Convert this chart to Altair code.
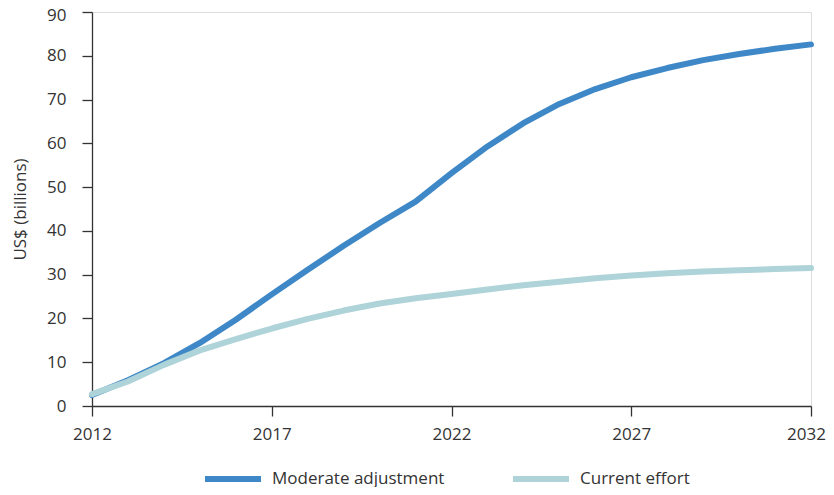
import altair as alt
import pandas as pd

years = list(range(2012, 2033))
moderate = [2.5, 5.9, 9.8, 14.4, 19.7, 25.5, 31.1, 36.6, 41.8, 46.7, 53.2,
            59.3, 64.6, 69.0, 72.4, 75.1, 77.2, 79.0, 80.4, 81.6, 82.6]
current = [2.7, 5.6, 9.4, 12.7, 15.3, 17.7, 19.9, 21.8, 23.4, 24.6, 25.6,
           26.6, 27.6, 28.4, 29.2, 29.8, 30.3, 30.7, 31.0, 31.3, 31.5]
series_names = ["Moderate adjustment", "Current effort"]
series_colors = ["#3F88C8", "#AED3D8"]
x_ticks = [2012, 2017, 2022, 2027, 2032]
y_ticks = list(range(0, 91, 10))

rows = []
for y, m, c in zip(years, moderate, current):
    rows.append({"year": y, "value": m, "series": series_names[0]})
    rows.append({"year": y, "value": c, "series": series_names[1]})
df = pd.DataFrame(rows)

FONT = "Open Sans"
TXT = "#333333"

color = alt.Color(
    "series:N",
    scale=alt.Scale(domain=series_names, range=series_colors),
    legend=alt.Legend(
        title=None,
        orient="none",
        direction="horizontal",
        legendX=110,
        legendY=436,
        symbolType="stroke",
        symbolSize=3136,
        symbolStrokeWidth=6,
        labelFontSize=17,
        labelFont=FONT,
        labelColor=TXT,
        labelOffset=8,
        labelLimit=0,
        columnPadding=56,
    ),
)

x = alt.X(
    "year:Q",
    scale=alt.Scale(domain=[2012, 2032], nice=False, zero=False),
    axis=alt.Axis(values=x_ticks, format="d", title=None, grid=False,
                  tickSize=10, labelPadding=10, domainColor=TXT,
                  tickColor=TXT, labelColor=TXT, labelFontSize=17,
                  labelFont=FONT, domainWidth=1.3, tickWidth=1.3,
                  labelFlush=False,
                  labelOffset={"expr": "datum.value == 2032 ? -5 : 0"}),
)
y = alt.Y(
    "value:Q",
    scale=alt.Scale(domain=[0, 90], nice=False),
    axis=alt.Axis(values=y_ticks, title="US$ (billions)", grid=False,
                  tickSize=10, labelPadding=16, domainColor=TXT,
                  tickColor=TXT, labelColor=TXT, labelFontSize=17,
                  labelFont=FONT, titleFont=FONT, titleFontSize=17,
                  titleFontWeight="normal", titleColor=TXT,
                  titlePadding=17, domainWidth=1.3, tickWidth=1.3,
                  labelOffset={"expr": "datum.value == 90 ? 3 : 0"}),
)

base = alt.Chart(df).mark_line(strokeWidth=6, strokeCap="round", strokeJoin="round")

layer1 = base.transform_filter(alt.datum.series == series_names[0]).encode(x=x, y=y, color=color)
layer2 = base.transform_filter(alt.datum.series == series_names[1]).encode(x=x, y=y, color=color)

chart = alt.layer(layer1, layer2).properties(
    width=719,
    height=394,
    autosize=alt.AutoSizeParams(type="none"),
    padding={"left": 84, "top": 4, "right": 15, "bottom": 81},
).configure_view(strokeWidth=0).configure(background="white")

chart.save("out.html", embed_options={"renderer": "svg", "actions": False})
